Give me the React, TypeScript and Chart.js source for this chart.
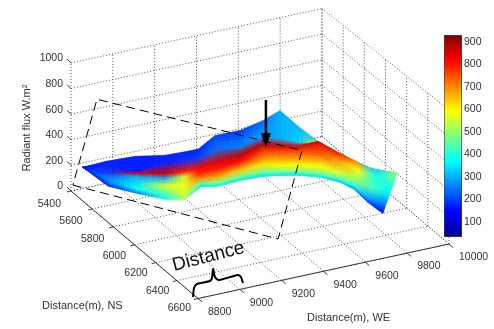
import React, { useEffect, useRef } from "react";
import { Chart, registerables } from "chart.js";

Chart.register(...registerables);

// Axis ticks
const zTicks = [0, 200, 400, 600, 800, 1000];
const nsTicks = [5400, 5600, 5800, 6000, 6200, 6400, 6600];
const weTicks = [8800, 9000, 9200, 9400, 9600, 9800, 10000];
const colorTicks = [100, 200, 300, 400, 500, 600, 700, 800, 900];

// Surface mesh: 7 rows from the back edge to the front edge, 16 columns from west to east
const surfaceWE = [
  [8854, 8969, 9102, 9220, 9298, 9373, 9483, 9606, 9710, 9784, 9781, 9764, 9776, 9760, 9858, 9824],
  [8854, 8950, 9030, 9186, 9268, 9315, 9405, 9493, 9614, 9658, 9694, 9602, 9743, 9755, 9856, 9820],
  [8854, 8905, 8614, 8718, 8843, 8888, 8976, 9077, 9214, 9287, 9363, 9454, 9510, 9597, 9848, 9809],
  [8854, 8874, 8931, 9036, 8965, 8883, 8973, 9085, 9248, 9327, 9403, 9467, 9548, 9623, 9778, 9809],
  [8854, 8836, 8876, 8848, 8908, 8923, 9012, 9149, 9281, 9352, 9434, 9500, 9568, 9637, 9698, 9785],
  [8854, 8835, 8836, 8888, 8884, 9055, 9095, 9227, 9337, 9401, 9478, 9545, 9617, 9660, 9730, 9784],
  [8854, 8864, 8888, 8895, 8885, 9108, 9163, 9283, 9389, 9458, 9534, 9601, 9673, 9718, 9759, 9796],
];
const surfaceNS = [
  [5406, 5397, 5409, 5458, 5464, 5468, 5412, 5404, 5417, 5430, 5607, 5857, 6023, 6206, 6181, 6466],
  [5406, 5444, 5551, 5526, 5552, 5583, 5575, 5626, 5605, 5679, 5796, 6158, 6079, 6215, 6185, 6464],
  [5406, 5542, 6372, 6450, 6393, 6426, 6432, 6449, 6396, 6412, 6450, 6441, 6530, 6518, 6201, 6477],
  [5406, 5604, 5746, 5821, 6151, 6436, 6437, 6433, 6328, 6333, 6371, 6436, 6464, 6476, 6331, 6448],
  [5406, 5687, 5854, 6193, 6263, 6367, 6360, 6308, 6264, 6283, 6310, 6369, 6424, 6449, 6468, 6467],
  [5406, 5691, 5933, 6114, 6311, 6115, 6197, 6153, 6153, 6186, 6225, 6281, 6327, 6383, 6378, 6432],
  [5406, 5623, 5830, 6100, 6309, 6020, 6062, 6041, 6050, 6074, 6113, 6169, 6217, 6260, 6311, 6379],
];
const surfaceFlux = [
  [170, 170, 170, 170, 170, 170, 200, 190, 240, 300, 300, 340, 350, 420, 330, 500],
  [170, 170, 170, 175, 180, 200, 240, 260, 280, 300, 330, 600, 400, 420, 330, 500],
  [170, 200, 850, 860, 800, 830, 850, 880, 880, 850, 850, 850, 800, 700, 340, 490],
  [170, 230, 300, 300, 560, 800, 800, 820, 760, 720, 720, 750, 680, 600, 400, 400],
  [170, 270, 340, 560, 580, 700, 680, 650, 620, 600, 590, 600, 560, 500, 430, 360],
  [170, 250, 370, 430, 560, 450, 500, 470, 470, 470, 470, 470, 430, 400, 280, 260],
  [170, 170, 250, 380, 520, 350, 360, 350, 350, 350, 350, 350, 320, 280, 200, 150],
];

// Annotations, in data coordinates
const sectionWE = [8805, 9372, 9474, 8908, 8805];
const sectionNS = [5408, 6226, 6250, 5432, 5408];
const sectionZ = [50, 0, 650, 700, 50];
const arrowWE = 9272;
const arrowNS = 6309;
const arrowZ = [1139, 785];
const arrowShaftEnd = 845;
const braceWE = [8788, 8832, 8861, 8924, 8945, 8990, 8961, 8963, 9058, 9060, 9041];
const braceNS = [6577, 6499, 6469, 6468, 6445, 6367, 6442, 6476, 6468, 6492, 6549];

const FONT = '"Liberation Sans", Arial, sans-serif';
const TEXT = "#333333";

const WE_MIN = 8800, WE_SPAN = 1200, NS_MIN = 5400, NS_SPAN = 1200;

// Fixed view of the 3-D box on the flat x/y scales of the chart
function project(we: number, ns: number, z: number) {
  const a = (we - WE_MIN) / WE_SPAN;
  const b = (ns - NS_MIN) / NS_SPAN;
  return {
    x: 71 + 251 * a + 127 * b,
    y: 191 - 54.5 * a + 107.5 * b - z * 0.128 * (1 + 0.0475 * b),
  };
}

const clamp01 = (v: number) => Math.max(0, Math.min(1, v));
function jet(flux: number): number[] {
  const t = (flux - 33) / 898;
  return [
    255 * clamp01(Math.min(4 * t - 1.5, 4.5 - 4 * t)),
    255 * clamp01(Math.min(4 * t - 0.5, 3.5 - 4 * t)),
    255 * clamp01(Math.min(4 * t + 0.5, 2.5 - 4 * t)),
  ];
}

const GAP = { x: NaN, y: NaN };

function gridPoints() {
  const pts: any[] = [];
  const seg = (p: any, q: any) => pts.push(p, q, GAP);
  const weEnd = weTicks[weTicks.length - 1], nsEnd = nsTicks[nsTicks.length - 1];
  const zTop = zTicks[zTicks.length - 1];
  for (const we of weTicks) {
    seg(project(we, nsTicks[0], 0), project(we, nsEnd, 0));
    seg(project(we, nsTicks[0], 0), project(we, nsTicks[0], zTop));
  }
  for (const ns of nsTicks) {
    seg(project(weTicks[0], ns, 0), project(weEnd, ns, 0));
    seg(project(weEnd, ns, 0), project(weEnd, ns, zTop));
  }
  for (const z of zTicks) {
    seg(project(weTicks[0], nsTicks[0], z), project(weEnd, nsTicks[0], z));
    seg(project(weEnd, nsTicks[0], z), project(weEnd, nsEnd, z));
  }
  return pts;
}

function axisPoints() {
  const pts: any[] = [];
  const weEnd = weTicks[weTicks.length - 1], nsEnd = nsTicks[nsTicks.length - 1];
  pts.push(project(weTicks[0], nsTicks[0], 0), project(weTicks[0], nsEnd, 0), project(weEnd, nsEnd, 0), GAP);
  for (const ns of nsTicks) {
    const p = project(weTicks[0], ns, 0);
    pts.push(p, { x: p.x - 4, y: p.y + 1 }, GAP);
  }
  for (const we of weTicks) {
    const p = project(we, nsEnd, 0);
    pts.push(p, { x: p.x + 4, y: p.y + 3.5 }, GAP);
  }
  for (const z of zTicks) {
    const p = project(weTicks[0], nsTicks[0], z);
    pts.push(p, { x: p.x - 4, y: p.y - 4 }, GAP);
  }
  return pts;
}

const surfacePlugin = {
  id: "surface",
  beforeDatasetDraw(chart: any, args: any) {
    if (chart.data.datasets[args.index].label !== "Radiant flux") return;
    const { ctx, scales } = chart;
    const rows = surfaceWE.length, cols = surfaceWE[0].length;
    const P = surfaceWE.map((row, i) =>
      row.map((we, j) => {
        const p = project(we, surfaceNS[i][j], surfaceFlux[i][j]);
        return { x: scales.x.getPixelForValue(p.x), y: scales.y.getPixelForValue(p.y), c: jet(surfaceFlux[i][j]) };
      })
    );
    const N = 5;
    ctx.save();
    ctx.lineWidth = 0.6;
    ctx.lineJoin = "round";
    for (let i = 0; i < rows - 1; i++) {
      for (let j = 0; j < cols - 1; j++) {
        const a = P[i][j], b = P[i][j + 1], c = P[i + 1][j + 1], d = P[i + 1][j];
        const at = (u: number, v: number) => ({
          x: (1 - u) * (1 - v) * a.x + u * (1 - v) * b.x + u * v * c.x + (1 - u) * v * d.x,
          y: (1 - u) * (1 - v) * a.y + u * (1 - v) * b.y + u * v * c.y + (1 - u) * v * d.y,
        });
        for (let s = 0; s < N; s++) {
          for (let t = 0; t < N; t++) {
            const u = (t + 0.5) / N, v = (s + 0.5) / N;
            const rgb = [0, 1, 2].map((k) =>
              Math.round((1 - u) * (1 - v) * a.c[k] + u * (1 - v) * b.c[k] + u * v * c.c[k] + (1 - u) * v * d.c[k])
            );
            const col = `rgb(${rgb[0]},${rgb[1]},${rgb[2]})`;
            const p0 = at(t / N, s / N), p1 = at((t + 1) / N, s / N), p2 = at((t + 1) / N, (s + 1) / N), p3 = at(t / N, (s + 1) / N);
            ctx.beginPath();
            ctx.moveTo(p0.x, p0.y);
            ctx.lineTo(p1.x, p1.y);
            ctx.lineTo(p2.x, p2.y);
            ctx.lineTo(p3.x, p3.y);
            ctx.closePath();
            ctx.fillStyle = col;
            ctx.strokeStyle = col;
            ctx.fill();
            ctx.stroke();
          }
        }
      }
    }
    ctx.restore();
  },
};

const labelsPlugin = {
  id: "labels3d",
  afterDatasetsDraw(chart: any) {
    const { ctx, scales } = chart;
    const px = (p: any) => ({ x: scales.x.getPixelForValue(p.x), y: scales.y.getPixelForValue(p.y) });
    ctx.save();
    // arrow head
    const tip = px(project(arrowWE, arrowNS, arrowZ[1]));
    ctx.fillStyle = "#000";
    ctx.beginPath();
    ctx.moveTo(tip.x, tip.y);
    ctx.lineTo(tip.x - 5, tip.y - 14);
    ctx.lineTo(tip.x + 5, tip.y - 14);
    ctx.closePath();
    ctx.fill();

    ctx.fillStyle = TEXT;
    ctx.font = `10.5px ${FONT}`;
    ctx.textBaseline = "middle";
    ctx.textAlign = "right";
    for (const z of zTicks) {
      const p = px(project(weTicks[0], nsTicks[0], z));
      ctx.fillText(String(z), p.x - 8, p.y - 4.5);
    }
    nsTicks.forEach((ns, i) => {
      const p = px(project(weTicks[0], ns, 0));
      const f = i / (nsTicks.length - 1);
      ctx.fillText(String(ns), p.x - 10 + 3 * f, p.y + 13 - 3.5 * f);
    });
    ctx.textAlign = "left";
    for (const we of weTicks) {
      const p = px(project(we, nsTicks[nsTicks.length - 1], 0));
      ctx.fillText(String(we), p.x + 10, p.y + 13.5);
    }
    ctx.font = `11px ${FONT}`;
    ctx.fillText("Distance(m), NS", 42, 306);
    ctx.fillText("Distance(m), WE", 307, 318);
    ctx.save();
    ctx.translate(27, 128);
    ctx.rotate(-Math.PI / 2);
    ctx.textAlign = "center";
    ctx.fillText("Radiant flux W.m²", 0, 0);
    ctx.restore();
    ctx.save();
    ctx.translate(174, 271);
    ctx.rotate((-14.5 * Math.PI) / 180);
    ctx.font = `19px ${FONT}`;
    ctx.fillStyle = "#111";
    ctx.textBaseline = "alphabetic";
    ctx.fillText("Distance", 0, 0);
    ctx.restore();
    ctx.restore();
  },
};

export default function App() {
  const mainRef = useRef<HTMLCanvasElement>(null);
  const barRef = useRef<HTMLCanvasElement>(null);

  useEffect(() => {
    document.body.style.margin = "0";
    const common = { pointRadius: 0, showLine: true, spanGaps: false, fill: false, tension: 0 };
    const main = new Chart(mainRef.current!, {
      type: "scatter",
      data: {
        datasets: [
          { ...common, label: "Grid", data: gridPoints(), borderColor: "#555", borderWidth: 1, borderDash: [1, 2], order: 6 },
          { ...common, label: "Axes", data: axisPoints(), borderColor: "#3a3a3a", borderWidth: 1, order: 5 },
          {
            label: "Radiant flux",
            data: surfaceWE.flatMap((row, i) => row.map((we, j) => project(we, surfaceNS[i][j], surfaceFlux[i][j]))),
            pointRadius: 0,
            showLine: false,
            order: 4,
          },
          {
            ...common,
            label: "Section",
            data: sectionWE.map((we, i) => project(we, sectionNS[i], sectionZ[i])),
            borderColor: "#000",
            borderWidth: 1,
            borderDash: [9, 5],
            order: 3,
          },
          {
            ...common,
            label: "Arrow",
            data: [project(arrowWE, arrowNS, arrowZ[0]), project(arrowWE, arrowNS, arrowShaftEnd)],
            borderColor: "#000",
            borderWidth: 2.5,
            order: 2,
          },
          {
            ...common,
            label: "Distance brace",
            data: braceWE.map((we, i) => project(we, braceNS[i], 0)),
            borderColor: "#000",
            borderWidth: 2,
            tension: 0.25,
            order: 1,
          },
        ] as any,
      },
      options: {
        animation: false,
        responsive: false,
        layout: { padding: 0 },
        plugins: { legend: { display: false }, tooltip: { enabled: false } },
        scales: {
          x: { type: "linear", min: 0, max: 494, display: false },
          y: { type: "linear", min: 0, max: 329, reverse: true, display: false },
        },
      } as any,
      plugins: [surfacePlugin, labelsPlugin],
    });

    const bar = new Chart(barRef.current!, {
      type: "bar",
      data: {
        labels: ["Radiant flux"],
        datasets: [
          {
            data: [[33, 931]],
            categoryPercentage: 1,
            barPercentage: 1,
            borderColor: "#444",
            borderWidth: 1,
            borderSkipped: false,
            backgroundColor: (c: any) => {
              const area = c.chart.chartArea;
              if (!area) return "#00f";
              const g = c.chart.ctx.createLinearGradient(0, area.bottom, 0, area.top);
              g.addColorStop(0, "rgb(0,0,143)");
              g.addColorStop(0.125, "rgb(0,0,255)");
              g.addColorStop(0.375, "rgb(0,255,255)");
              g.addColorStop(0.625, "rgb(255,255,0)");
              g.addColorStop(0.875, "rgb(255,0,0)");
              g.addColorStop(1, "rgb(128,0,0)");
              return g;
            },
          },
        ] as any,
      },
      options: {
        animation: false,
        responsive: false,
        layout: { padding: { left: 14, top: 10, bottom: 13, right: 0 } },
        plugins: { legend: { display: false }, tooltip: { enabled: false } },
        scales: {
          x: { display: false },
          y: {
            position: "right",
            min: 33,
            max: 931,
            afterBuildTicks: (s: any) => {
              s.ticks = colorTicks.map((value) => ({ value }));
            },
            afterFit: (s: any) => {
              s.width = 32;
            },
            grid: { drawOnChartArea: false, tickLength: 0 },
            border: { display: false },
            ticks: { color: TEXT, font: { family: FONT, size: 10.5 }, padding: 2, autoSkip: false, maxRotation: 0 },
          },
        },
      } as any,
    });

    return () => {
      main.destroy();
      bar.destroy();
    };
  }, []);

  const soft = { filter: "blur(0.35px)" };
  return (
    <div style={{ position: "relative", width: 494, height: 329, background: "#fff", overflow: "hidden" }}>
      <canvas ref={mainRef} width={494} height={329} style={{ position: "absolute", left: 0, top: 0, ...soft }} />
      <canvas ref={barRef} width={64} height={225} style={{ position: "absolute", left: 430, top: 25, ...soft }} />
    </div>
  );
}
